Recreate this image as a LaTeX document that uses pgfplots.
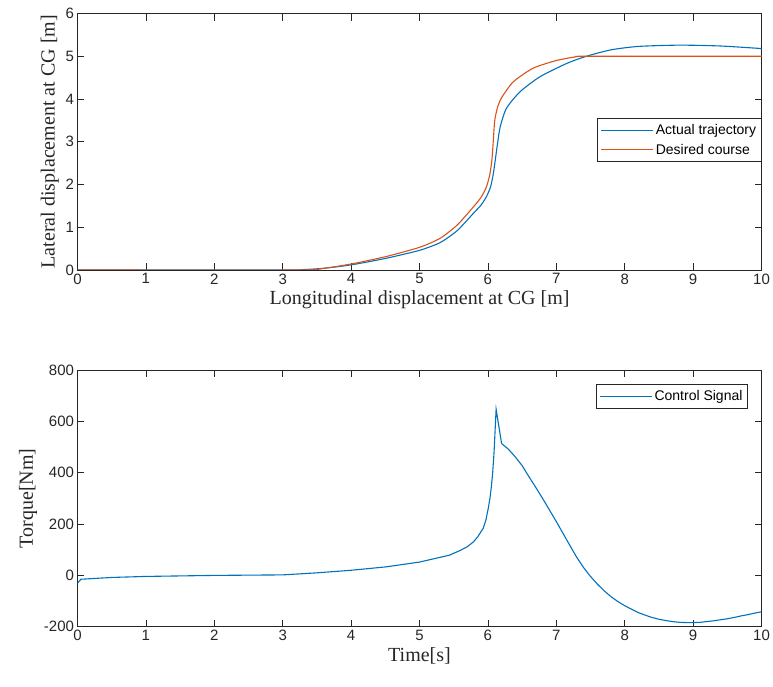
\documentclass[border=0pt]{standalone}
\usepackage{pgfplots}
\pgfplotsset{compat=1.18}
\usepackage{fontspec}
\setmainfont{Liberation Serif}
\newfontfamily\sansf{Liberation Sans}
\definecolor{mblue}{RGB}{0,114,189}
\definecolor{morange}{RGB}{217,83,25}
\definecolor{axgray}{RGB}{38,38,38}
\begin{document}
\begin{tikzpicture}
\useasboundingbox (0pt,0pt) rectangle (773pt,686pt);
\pgfplotsset{
  every axis/.append style={
    scale only axis, width=684pt, height=256.5pt,
    xmin=0, xmax=10, xtick={0,...,10},
    tick pos=both, tick align=inside, major tick length=7pt,
    axis line style={axgray, line width=0.7pt},
    every tick/.style={axgray, line width=0.7pt},
    ticklabel style={font=\sansf\fontsize{15}{15}\selectfont, text=axgray},
    /pgf/number format/assume math mode=true,
    label style={font=\fontsize{20}{20}\selectfont, text=axgray},
    legend style={font=\sansf\fontsize{14}{14}\selectfont, draw=axgray, line width=0.7pt, inner xsep=3pt, inner ysep=4pt, row sep=4pt, cells={anchor=west}},
    legend image code/.code={\draw[#1, line width=1pt] (0pt,0pt) -- (52pt,0pt);},
    legend cell align=left,
  }
}
\begin{axis}[
  at={(77.5pt,416pt)}, anchor=south west,
  ymin=0, ymax=6, ytick={0,...,6},
  xlabel={Longitudinal displacement at CG [m]},
  ylabel={Lateral displacement at CG [m]},
  legend style={at={(1,0.593)}, anchor=north east},
]
\addplot[mblue, line width=1.1pt, smooth, tension=0.4] coordinates {
(0,0) (3.0,0) (3.3,0.01) (3.6,0.04) (4.0,0.12) (4.5,0.27) (5.0,0.46) (5.3,0.64) (5.55,0.92) (5.79,1.33) (5.9,1.52) (5.98,1.72) (6.04,1.95) (6.08,2.26) (6.11,2.6) (6.14,2.95) (6.18,3.35) (6.27,3.78) (6.47,4.17) (6.76,4.52) (7.15,4.83) (7.44,5.0) (7.8,5.15) (8.2,5.23) (8.8,5.26) (9.4,5.24) (10,5.18)
};
\addlegendentry{Actual trajectory}
\addplot[morange, line width=1.1pt, smooth, tension=0.4] coordinates {
(0,0) (3.2,0) (3.6,0.04) (4.0,0.14) (4.5,0.31) (5.0,0.53) (5.3,0.74) (5.55,1.05) (5.79,1.48) (5.9,1.7) (5.98,1.95) (6.03,2.25) (6.06,2.6) (6.08,3.05) (6.10,3.5) (6.14,3.8) (6.2,4.03) (6.37,4.40) (6.66,4.72) (7.0,4.90) (7.3,4.99) (7.5,5.0) (10,5.0)
};
\addlegendentry{Desired course}
\end{axis}
\begin{axis}[
  at={(77.5pt,59.3pt)}, anchor=south west,
  ymin=-200, ymax=800, ytick={-200,0,...,800},
  xlabel={Time[s]},
  ylabel={Torque[Nm]},
  legend style={at={(0.980,0.9455)}, anchor=north east},
]
\addplot[mblue, line width=1.1pt] coordinates {
(0,-30) (0.05,-15) (0.5,-8) (1,-4) (2,0) (3,2) (3.5,10) (4,20) (4.5,33) (5,52) (5.44,79) (5.6,98) (5.7,112) (5.79,131) (5.85,150) (5.93,183) (5.97,215) (6.0,254) (6.03,300) (6.05,345) (6.07,400) (6.09,480) (6.12,648) (6.2,514) (6.3,492) (6.4,462) (6.5,428) (6.6,385) (6.7,343) (6.8,300) (6.9,255) (7.0,210) (7.1,163) (7.2,116) (7.3,70) (7.4,30) (7.5,-4) (7.6,-34) (7.7,-60) (7.8,-83) (7.9,-102) (8.0,-118) (8.1,-132) (8.2,-145) (8.3,-155) (8.4,-164) (8.5,-171) (8.6,-176) (8.7,-180) (8.8,-183) (8.9,-184) (9.0,-184) (9.1,-183) (9.2,-180) (9.3,-177) (9.4,-173) (9.5,-169) (9.6,-164) (9.7,-158) (9.8,-153) (9.9,-147) (10,-142)
};
\addlegendentry{Control Signal}
\end{axis}
\end{tikzpicture}
\end{document}
